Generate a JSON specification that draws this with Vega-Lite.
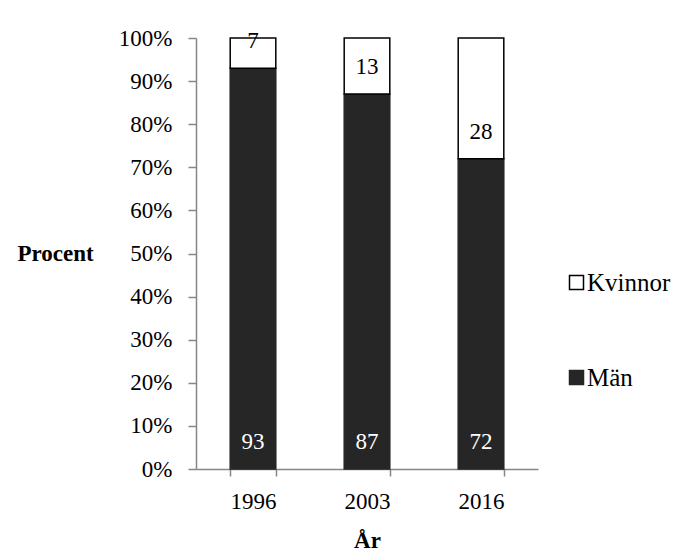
{
  "$schema": "https://vega.github.io/schema/vega-lite/v6.json",
  "autosize": "none",
  "width": 342,
  "height": 431,
  "padding": {"left": 196, "top": 38, "right": 142, "bottom": 91},
  "background": "white",
  "config": {
    "font": "Liberation Serif",
    "view": {"stroke": null},
    "text": {"font": "Liberation Serif"},
    "legend": {"labelFont": "Liberation Serif"}
  },
  "data": {
    "values": [
      {"year": "1996", "kön": "Män", "value": 93, "order": 1},
      {"year": "1996", "kön": "Kvinnor", "value": 7, "order": 2},
      {"year": "2003", "kön": "Män", "value": 87, "order": 1},
      {"year": "2003", "kön": "Kvinnor", "value": 13, "order": 2},
      {"year": "2016", "kön": "Män", "value": 72, "order": 1},
      {"year": "2016", "kön": "Kvinnor", "value": 28, "order": 2}
    ]
  },
  "transform": [
    {"stack": "value", "groupby": ["year"], "sort": [{"field": "order", "order": "ascending"}], "as": ["v0", "v1"]}
  ],
  "encoding": {
    "x": {
      "field": "year",
      "type": "nominal",
      "sort": ["1996", "2003", "2016"],
      "scale": {"paddingInner": 0.6, "paddingOuter": 0.3},
      "axis": {
        "title": "År",
        "labelAngle": 0,
        "tickBand": "extent",
        "domainColor": "#868686",
        "domainWidth": 1.5,
        "tickColor": "#868686",
        "tickWidth": 1.5,
        "tickSize": 7,
        "labelPadding": 14,
        "labelFont": "Liberation Serif",
        "labelFontSize": 23,
        "labelColor": "black",
        "titleFont": "Liberation Serif",
        "titleFontSize": 23,
        "titleFontWeight": "bold",
        "titleColor": "black",
        "titleY": 78,
        "titleBaseline": "alphabetic"
      }
    }
  },
  "layer": [
    {
      "mark": {"type": "bar", "strokeWidth": 1.5},
      "encoding": {
        "y": {
          "field": "v0",
          "type": "quantitative",
          "scale": {"domain": [0, 100], "nice": false},
          "axis": {
            "title": "Procent",
            "values": [0, 10, 20, 30, 40, 50, 60, 70, 80, 90, 100],
            "labelExpr": "datum.value + '%'",
            "grid": false,
            "domainColor": "#868686",
            "domainWidth": 1.5,
            "tickColor": "#868686",
            "tickWidth": 1.5,
            "tickSize": 8,
            "labelPadding": 16,
            "labelFont": "Liberation Serif",
            "labelFontSize": 23,
            "labelColor": "black",
            "titleAngle": 0,
            "titleX": -179,
            "titleY": 215,
            "titleAlign": "left",
            "titleBaseline": "middle",
            "titleFont": "Liberation Serif",
            "titleFontSize": 23,
            "titleFontWeight": "bold",
            "titleColor": "black"
          }
        },
        "y2": {"field": "v1"},
        "fill": {
          "field": "kön",
          "type": "nominal",
          "scale": {"domain": ["Kvinnor", "Män"], "range": ["#ffffff", "#262626"]},
          "legend": {
            "title": null,
            "orient": "none",
            "legendX": 368,
            "legendY": 232,
            "symbolType": "square",
            "symbolSize": 196,
            "symbolStrokeWidth": 1.5,
            "labelFontSize": 25,
            "labelFont": "Liberation Serif",
            "labelColor": "black",
            "rowPadding": 69,
            "labelOffset": -2,
            "padding": 0
          }
        },
        "stroke": {
          "field": "kön",
          "type": "nominal",
          "scale": {"domain": ["Kvinnor", "Män"], "range": ["#000000", "#262626"]}
        }
      }
    },
    {
      "mark": {"type": "text", "dy": -27, "font": "Liberation Serif", "fontSize": 23, "baseline": "middle"},
      "encoding": {
        "y": {"field": "v0", "type": "quantitative"},
        "text": {"field": "value", "type": "quantitative"},
        "color": {
          "field": "kön",
          "type": "nominal",
          "scale": {"domain": ["Kvinnor", "Män"], "range": ["#000000", "#ffffff"]},
          "legend": null
        }
      }
    }
  ]
}
